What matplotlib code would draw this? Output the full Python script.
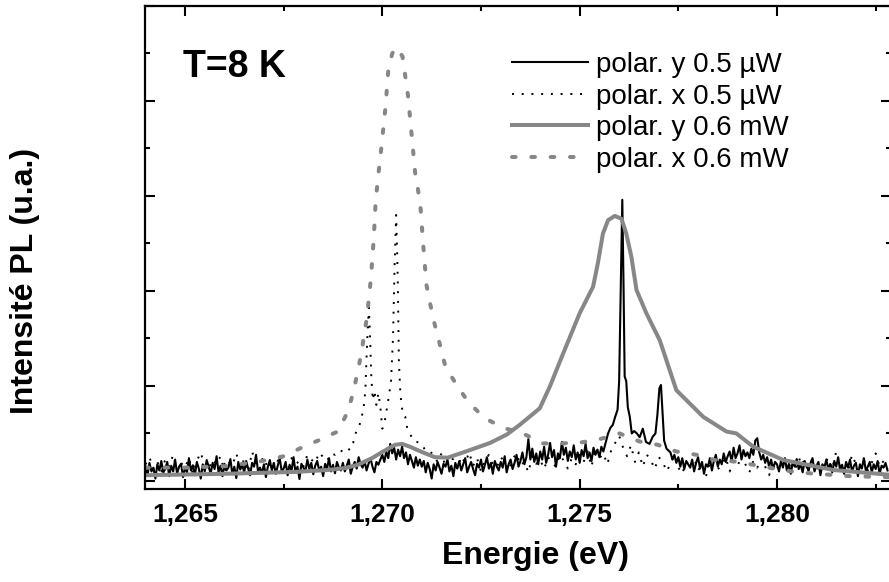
import numpy as np
import matplotlib
matplotlib.use("Agg")
import matplotlib.pyplot as plt
from matplotlib.ticker import MultipleLocator, FuncFormatter, NullFormatter

plt.rcParams['font.family'] = ['Liberation Sans', 'DejaVu Sans']

# ---- data (energies in eV, intensity in arbitrary units) ----
STEP_Y = 0.00005  # sampling of the polar. y 0.5 uW spectrum
STEP_X = 0.0001   # sampling of the polar. x 0.5 uW spectrum

# polar. y 0.5 uW  (black solid)
solid_a = [  # 1.2640 .. 1.2756
    0.30, 0.12, 0.38, 0.20, 0.28, 0.05, 0.35, 0.22, 0.42, 0.18,
    0.25, 0.40, 0.10, 0.32, 0.20, 0.45, 0.15, 0.30, 0.36, 0.08,
    0.28, 0.18, 0.48, 0.22, 0.33, 0.12, 0.40, 0.26, 0.05, 0.35,
    0.20, 0.44, 0.30, 0.15, 0.38, 0.25, 0.52, 0.18, 0.32, 0.10,
    0.36, 0.22, 0.28, 0.46, 0.14, 0.30, 0.06, 0.40, 0.24, 0.34,
    0.18, 0.42, 0.26, 0.12, 0.38, 0.30, 0.55, 0.20, 0.28, 0.16,
    0.35, 0.08, 0.30, 0.44, 0.22, 0.38, 0.15, 0.32, 0.48, 0.20,
    0.26, 0.40, 0.12, 0.34, 0.22, 0.50, 0.18, 0.30, 0.04, 0.36,
    0.28, 0.20, 0.45, 0.25, 0.38, 0.14, 0.32, 0.42, 0.22, 0.30,
    0.10, 0.36, 0.26, 0.48, 0.20, 0.34, 0.16, 0.40, 0.28, 0.22,
    0.38, 0.20, 0.32, 0.45, 0.15, 0.30, 0.40, 0.26, 0.50, 0.35,
    0.28, 0.42, 0.22, 0.36, 0.48, 0.30, 0.18, 0.40, 0.34, 0.45,
    0.55, 0.40, 0.62, 0.48, 0.78, 0.58, 0.70, 0.45, 0.66, 0.52,
    0.72, 0.48, 0.60, 0.35, 0.55, 0.42, 0.28, 0.50, 0.32, 0.45,
    0.30, 0.42, 0.18, 0.38, 0.25, 0.05, 0.35, 0.22, 0.40, 0.28,
    0.15, 0.36, 0.30, 0.45, 0.20, 0.32, 0.10, 0.38, 0.26, 0.42,
    0.22, 0.35, 0.48, 0.18, 0.30, 0.40, 0.25, 0.12, 0.36, 0.28,
    0.45, 0.20, 0.34, 0.50, 0.26, 0.38, 0.15, 0.42, 0.30, 0.22,
    0.40, 0.28, 0.52, 0.18, 0.35, 0.45, 0.25, 0.38, 0.55, 0.30,
    0.42, 0.60, 0.35, 0.50, 0.88, 0.45, 0.68, 0.40, 0.58, 0.35,
    0.62, 0.45, 0.72, 0.38, 0.55, 0.80, 0.50, 0.65, 0.30, 0.58,
    0.48, 0.82, 0.55, 0.70, 0.42, 0.62, 0.50, 0.75, 0.45, 0.60,
    0.38, 0.65, 0.52, 0.78, 0.48, 0.60, 0.42, 0.70, 0.55, 0.66,
    0.50, 0.72, 0.62,
]
solid_peak_e = [1.27572, 1.27578, 1.27584, 1.27590, 1.27596, 1.27600, 1.27604,
                1.27608, 1.27611, 1.27614, 1.27618, 1.27622, 1.27627, 1.27632,
                1.27638, 1.27645, 1.27652, 1.27660, 1.27668, 1.27677, 1.27685,
                1.27692, 1.27697, 1.27702, 1.27706, 1.27710, 1.27714, 1.27720]
solid_peak_v = [1.00, 1.12, 1.18, 1.35, 1.50, 2.10, 4.00,
                5.92, 4.20, 2.20, 2.10, 1.55, 1.35, 1.00,
                1.05, 1.00, 0.92, 1.10, 0.82, 0.78, 0.93,
                1.00, 1.40, 1.95, 2.02, 1.45, 0.85, 0.68]
solid_b = [  # 1.2773 .. 1.2828
    0.60, 0.45, 0.55, 0.38, 0.50, 0.30, 0.48, 0.25, 0.42, 0.35,
    0.28, 0.45, 0.20, 0.38, 0.50, 0.26, 0.40, 0.15, 0.35, 0.30,
    0.48, 0.22, 0.42, 0.55, 0.30, 0.45, 0.35, 0.58, 0.40, 0.52,
    0.62, 0.40, 0.70, 0.48, 0.58, 0.75, 0.45, 0.65, 0.52, 0.60,
    0.48, 0.68, 0.55, 0.85, 0.90, 0.60, 0.45, 0.55, 0.38, 0.50,
    0.30, 0.45, 0.25, 0.40, 0.35, 0.20, 0.42, 0.28, 0.48, 0.22,
    0.36, 0.15, 0.40, 0.30, 0.46, 0.25, 0.35, 0.18, 0.42, 0.30,
    0.22, 0.38, 0.48, 0.20, 0.32, 0.40, 0.12, 0.35, 0.28, 0.45,
    0.25, 0.36, 0.18, 0.42, 0.30, 0.50, 0.22, 0.34, 0.15, 0.40,
    0.28, 0.45, 0.20, 0.32, 0.38, 0.10, 0.35, 0.26, 0.48, 0.22,
    0.30, 0.40, 0.18, 0.35, 0.25, 0.42, 0.15, 0.32, 0.28, 0.38, 0.22,
]

# polar. x 0.5 uW  (black dotted)
dot_a = [  # 1.2640 .. 1.2689
    0.35, 0.50, 0.25, 0.40, 0.20, 0.45, 0.30, 0.55, 0.22, 0.38,
    0.28, 0.48, 0.15, 0.42, 0.60, 0.30, 0.25, 0.45, 0.35, 0.52,
    0.20, 0.40, 0.32, 0.58, 0.28, 0.45, 0.18, 0.62, 0.35, 0.40,
    0.50, 0.25, 0.44, 0.30, 0.55, 0.38, 0.20, 0.48, 0.35, 0.42,
    0.30, 0.55, 0.45, 0.38, 0.60, 0.50, 0.42, 0.58, 0.55, 0.65,
]
dot_peak_e = [1.26900, 1.26910, 1.26918, 1.26926, 1.26932, 1.26940, 1.26946,
              1.26952, 1.26957, 1.26960, 1.26963, 1.26966, 1.26969, 1.26972,
              1.26976, 1.26980, 1.26985, 1.26990, 1.26995, 1.27000, 1.27005,
              1.27010, 1.27016, 1.27022, 1.27027, 1.27031, 1.27035, 1.27039,
              1.27042, 1.27046, 1.27052, 1.27058, 1.27063, 1.27070, 1.27078,
              1.27088, 1.27100, 1.27110]
dot_peak_v = [0.62, 0.70, 0.65, 0.80, 1.00, 1.10, 1.30,
              1.50, 1.90, 2.60, 3.20, 3.65, 3.00, 2.20,
              1.70, 1.90, 1.60, 1.85, 1.55, 1.10, 1.20,
              1.45, 1.75, 2.10, 3.00, 4.50, 5.60, 4.30,
              2.50, 1.80, 1.40, 1.35, 1.12, 1.00, 0.85,
              0.82, 0.78, 0.62]
dot_b = [  # 1.2712 .. 1.2828
    0.62, 0.55, 0.40, 0.58, 0.30, 0.50, 0.45, 0.25, 0.52, 0.38,
    0.60, 0.32, 0.48, 0.20, 0.42, 0.55, 0.35, 0.28, 0.50, 0.40,
    0.22, 0.46, 0.58, 0.33, 0.40, 0.18, 0.52, 0.36, 0.45, 0.25,
    0.50, 0.38, 0.30, 0.55, 0.42, 0.26, 0.48, 0.35,
    0.55, 0.40, 0.62, 0.30, 0.70, 0.48, 0.58, 0.35, 0.65, 0.80,
    0.95, 0.70, 0.52, 0.75, 0.40, 0.60, 0.30, 0.55, 0.45, 0.25, 0.50,
    0.42, 0.20, 0.35, 0.55, 0.28, 0.15, 0.40, 0.30, 0.48, 0.22,
    0.35, 0.10, 0.38, 0.45, 0.25, 0.32, 0.50, 0.20, 0.40, 0.30,
    0.55, 0.35, 0.18, 0.42, 0.28, 0.48, 0.30, 0.12, 0.36, 0.25,
    0.45, 0.32, 0.20, 0.40, 0.28, 0.52, 0.35, 0.22, 0.42, 0.30,
    0.18, 0.38, 0.48, 0.25, 0.62, 0.30, 0.40, 0.20, 0.55, 0.35,
    0.28, 0.45, 0.22, 0.38, 0.58, 0.30, 0.42, 0.25,
]

# polar. y 0.6 mW  (grey solid)
hy_e = [1.26399, 1.26600, 1.26779, 1.26862, 1.26905, 1.26938, 1.26974, 1.27000,
        1.27032, 1.27050, 1.27070, 1.27100, 1.27133, 1.27166, 1.27222, 1.27273,
        1.27316, 1.27348, 1.27399, 1.27424, 1.27458, 1.27500, 1.27534, 1.27546,
        1.27559, 1.27572, 1.27589, 1.27606, 1.27618, 1.27631, 1.27644, 1.27669,
        1.27703, 1.27745, 1.27779, 1.27813, 1.27872, 1.27897, 1.27940, 1.28016,
        1.28143, 1.28285]
hy_v = [0.12, 0.15, 0.19, 0.23, 0.27, 0.34, 0.48, 0.61,
        0.76, 0.78, 0.72, 0.61, 0.50, 0.49, 0.65, 0.80,
        0.98, 1.18, 1.53, 1.98, 2.68, 3.53, 4.09, 4.58,
        5.21, 5.49, 5.58, 5.52, 5.21, 4.72, 4.02, 3.53,
        2.96, 1.91, 1.63, 1.35, 1.04, 1.00, 0.72, 0.44,
        0.23, 0.13]

# polar. x 0.6 mW  (grey dashed)
hx_e = [1.26399, 1.26500, 1.26600, 1.26690, 1.26750, 1.26790, 1.26840, 1.26887,
        1.26912, 1.26927, 1.26946, 1.26961, 1.26971, 1.26978, 1.26983, 1.26988,
        1.26998, 1.27008, 1.27015, 1.27025, 1.27036, 1.27051, 1.27065, 1.27074,
        1.27083, 1.27091, 1.27097, 1.27104, 1.27112, 1.27122, 1.27132, 1.27145,
        1.27160, 1.27190, 1.27217, 1.27259, 1.27310, 1.27356, 1.27407, 1.27453,
        1.27504, 1.27551, 1.27601, 1.27652, 1.27698, 1.27745, 1.27796, 1.27842,
        1.27893, 1.27940, 1.27986, 1.28037, 1.28084, 1.28185, 1.28285]
hx_v = [0.28, 0.28, 0.31, 0.41, 0.52, 0.68, 0.86, 1.04,
        1.45, 1.88, 2.65, 3.45, 4.26, 5.07, 5.87, 6.30,
        7.06, 7.87, 8.64, 9.00, 9.13, 8.94, 8.12, 7.31,
        6.50, 6.10, 5.73, 4.93, 4.12, 3.70, 3.32, 2.90,
        2.40, 2.00, 1.67, 1.32, 1.11, 1.00, 0.79, 0.79,
        0.81, 0.88, 1.00, 0.83, 0.76, 0.62, 0.55, 0.44,
        0.41, 0.34, 0.27, 0.20, 0.16, 0.10, 0.08]

labels = ['polar. y 0.5 µW', 'polar. x 0.5 µW', 'polar. y 0.6 mW', 'polar. x 0.6 mW']

# ---- assemble the sampled spectra ----
ly_e = np.concatenate([1.2640 + STEP_Y * np.arange(len(solid_a)), solid_peak_e,
                       1.2773 + STEP_Y * np.arange(len(solid_b))])
ly_v = np.concatenate([solid_a, solid_peak_v, solid_b])
lx_e = np.concatenate([1.2640 + STEP_X * np.arange(len(dot_a)), dot_peak_e,
                       1.2712 + STEP_X * np.arange(len(dot_b))])
lx_v = np.concatenate([dot_a, dot_peak_v, dot_b])

GREY = '#878787'

fig = plt.figure(figsize=(8.89, 5.82), dpi=100)
ax = fig.add_axes([145 / 889, 93 / 582, 746 / 889, 483 / 582])

ax.plot(ly_e, ly_v, color='black', lw=1.5, label=labels[0])
ax.plot(lx_e, lx_v, color='black', lw=1.4, linestyle=(0, (1, 4)), label=labels[1])
ax.plot(hy_e, hy_v, color=GREY, lw=2.9, label=labels[2])
ax.plot(hx_e, hx_v, color=GREY, lw=2.9, linestyle=(0, (0.9, 3.9)),
        dash_capstyle='round', label=labels[3])

ax.set_xlim(1.2639866, 1.2828883)
ax.set_ylim(-0.17, 10.0)

ax.xaxis.set_major_locator(MultipleLocator(0.005))
ax.xaxis.set_minor_locator(MultipleLocator(0.0025))
ax.xaxis.set_major_formatter(FuncFormatter(lambda v, p: f"{v:.3f}".replace('.', ',')))
ax.yaxis.set_major_locator(MultipleLocator(2))
ax.yaxis.set_minor_locator(MultipleLocator(1))
ax.yaxis.set_major_formatter(NullFormatter())

ax.tick_params(which='both', direction='in', top=True, right=True, width=1.5)
ax.tick_params(which='major', length=7.5, pad=10)
ax.tick_params(which='minor', length=3.5)
ax.tick_params(axis='x', labelsize=19)
for lab in ax.get_xticklabels():
    lab.set_fontweight('bold')
for sp in ax.spines.values():
    sp.set_linewidth(1.6)

ax.text((183 - 145) / 746, (489 - 77) / 483, 'T=8 K', transform=ax.transAxes,
        fontsize=27, fontweight='bold', ha='left', va='baseline')

ax.legend(loc='upper left', bbox_to_anchor=((512 - 145) / 746, (489 - 52) / 483),
          frameon=False, fontsize=20, handlelength=2.73, handletextpad=0.3,
          labelspacing=0.2, borderpad=0, borderaxespad=0)

fig.text(536 / 889, 1 - 556 / 582, 'Energie (eV)', fontsize=23, fontweight='bold',
         ha='center', va='center')
fig.text(25 / 889, 1 - 281 / 582, 'Intensité PL (u.a.)', fontsize=23, fontweight='bold',
         ha='center', va='center', rotation=90)

fig.savefig('out.png', dpi=100)
